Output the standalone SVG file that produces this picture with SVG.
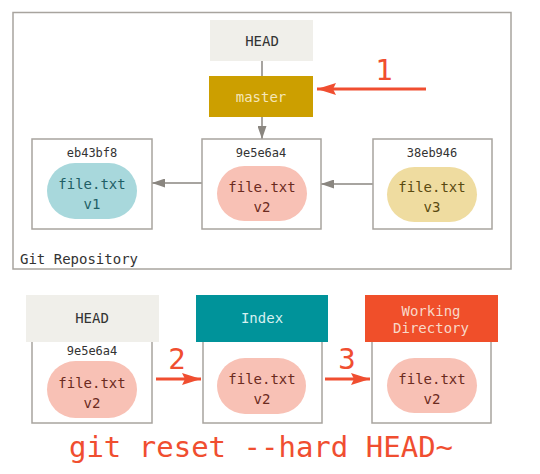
<svg xmlns="http://www.w3.org/2000/svg" width="540" height="474" viewBox="0 0 540 474">
<style>
text{font-family:"DejaVu Sans Mono","Liberation Mono",monospace;text-anchor:middle}
.box{fill:#fff;stroke:#a8a49e;stroke-width:1.5}
.hash{font-size:12px;fill:#333}
.lbl{font-size:14px}
.gray{stroke:#8a8680;stroke-width:1.5;fill:none}
.red{stroke:#f04e30;stroke-width:3;fill:none}
.num{font-size:29px;fill:#f04e30}
</style>
<defs>
<marker id="ga" viewBox="0 0 13 9" refX="13" refY="4.5" markerWidth="13" markerHeight="9" markerUnits="userSpaceOnUse" orient="auto"><path d="M0,0 L13,4.5 L0,9 z" fill="#8a8680"/></marker>
<marker id="ra" viewBox="0 0 19 12" refX="19" refY="6" markerWidth="19" markerHeight="12" markerUnits="userSpaceOnUse" orient="auto"><path d="M0,0 L19,6 L0,12 L3,6 z" fill="#f04e30"/></marker>
</defs>
<rect width="540" height="474" fill="#fff"/>
<g id="repo">
<rect x="13" y="12.5" width="498" height="256.5" fill="#fff" stroke="#a8a49e" stroke-width="1.5"/>
<text x="20" y="264" class="lbl" fill="#333" style="text-anchor:start">Git Repository</text>
</g>
<g id="connectors">
<line class="gray" x1="262" y1="61" x2="262" y2="76"/>
<line class="gray" x1="262" y1="117" x2="262" y2="139" marker-end="url(#ga)"/>
<line class="gray" x1="202" y1="183" x2="152" y2="183" marker-end="url(#ga)"/>
<line class="gray" x1="373" y1="184" x2="321" y2="184" marker-end="url(#ga)"/>
<line class="red" x1="426" y1="89" x2="317" y2="89" marker-end="url(#ra)"/>
<line class="red" x1="156" y1="379" x2="201" y2="379" marker-end="url(#ra)"/>
<line class="red" x1="325" y1="379" x2="370" y2="379" marker-end="url(#ra)"/>
</g>
<g id="head">
<rect x="210" y="20" width="103" height="41" fill="#f0efea"/>
<text x="262" y="46" class="lbl" fill="#333">HEAD</text>
</g>
<g id="master">
<rect x="209" y="76" width="104" height="41" fill="#cc9f00"/>
<text x="261" y="102" class="lbl" fill="#f5e6b8">master</text>
</g>
<text id="label1" x="384" y="80" class="num">1</text>
<g id="commit1">
<rect class="box" x="32" y="139" width="120" height="90"/>
<text x="92" y="157" class="hash">eb43bf8</text>
<rect x="47" y="163" width="90" height="56" rx="28" fill="#a8d8dc"/>
<text x="92" y="189" class="lbl" fill="#1f5f66">file.txt</text>
<text x="92" y="209" class="lbl" fill="#1f5f66">v1</text>
</g>
<g id="commit2">
<rect class="box" x="202" y="139" width="119" height="90"/>
<text x="261" y="157" class="hash">9e5e6a4</text>
<rect x="217" y="166" width="90" height="55" rx="27.5" fill="#f8c1b5"/>
<text x="262" y="192" class="lbl" fill="#6b2a20">file.txt</text>
<text x="262" y="212" class="lbl" fill="#6b2a20">v2</text>
</g>
<g id="commit3">
<rect class="box" x="373" y="139" width="119" height="90"/>
<text x="432" y="157" class="hash">38eb946</text>
<rect x="387" y="167" width="90" height="55" rx="27.5" fill="#efdca0"/>
<text x="432" y="192" class="lbl" fill="#5a4a10">file.txt</text>
<text x="432" y="212" class="lbl" fill="#5a4a10">v3</text>
</g>
<g id="headtree">
<rect class="box" x="32" y="330" width="120" height="93"/>
<rect x="26" y="295" width="133" height="47" fill="#f0efea"/>
<text x="92" y="323" class="lbl" fill="#333">HEAD</text>
<text x="92" y="355" class="hash">9e5e6a4</text>
<rect x="47" y="361" width="90" height="57" rx="28.5" fill="#f8c1b5"/>
<text x="92" y="388" class="lbl" fill="#6b2a20">file.txt</text>
<text x="92" y="408" class="lbl" fill="#6b2a20">v2</text>
</g>
<g id="index">
<rect class="box" x="203" y="330" width="119" height="93"/>
<rect x="196" y="295" width="132" height="47" fill="#00939a"/>
<text x="262" y="323" class="lbl" fill="#d6f0f0">Index</text>
<rect x="217" y="358" width="89" height="56" rx="28" fill="#f8c1b5"/>
<text x="262" y="384" class="lbl" fill="#6b2a20">file.txt</text>
<text x="262" y="404" class="lbl" fill="#6b2a20">v2</text>
</g>
<g id="workdir">
<rect class="box" x="372" y="330" width="119" height="93"/>
<rect x="365" y="295" width="133" height="47" fill="#f04f2a"/>
<text x="431" y="316" class="lbl" fill="#f8d8c8">Working</text>
<text x="431" y="333" class="lbl" fill="#f8d8c8">Directory</text>
<rect x="387" y="358" width="90" height="55" rx="27.5" fill="#f8c1b5"/>
<text x="432" y="384" class="lbl" fill="#6b2a20">file.txt</text>
<text x="432" y="404" class="lbl" fill="#6b2a20">v2</text>
</g>
<text id="label2" x="177" y="369" class="num">2</text>
<text id="label3" x="347" y="369" class="num">3</text>
<text id="cmd" x="261" y="457" style="font-size:29px" fill="#f04e30">git reset --hard HEAD~</text>
</svg>
